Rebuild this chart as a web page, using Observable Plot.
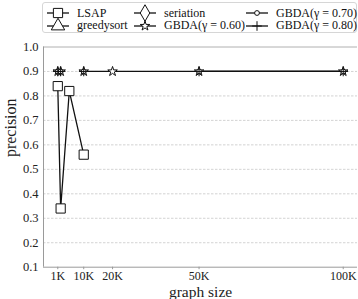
<!DOCTYPE html>
<html><head><meta charset="utf-8">
<script src="https://cdn.jsdelivr.net/npm/d3@7"></script>
<script src="https://cdn.jsdelivr.net/npm/@observablehq/plot@0.6"></script>
<style>
body{margin:0;background:#fff;font-family:"Liberation Serif","DejaVu Serif",serif;}
#legendWrap{position:relative;width:358px;height:36px;}
#legend{position:absolute;left:42px;top:2px;width:315px;height:31px;border:1px solid #d6d6d6;border-radius:3px;box-sizing:border-box;background:#fff;}
.item{position:absolute;display:flex;align-items:center;font-family:"Liberation Serif","DejaVu Serif",serif;font-size:12px;color:#111;white-space:nowrap;height:14px;}
.item svg{margin-right:8px;overflow:visible}
</style></head>
<body>
<div id="legendWrap"><div id="legend"></div></div>
<div id="chart"></div>
<script>
// ---- data ----
const sizes = [1000, 2000, 5000, 10000, 20000, 50000, 100000];
const seriesNames = ["LSAP", "greedysort", "seriation", "GBDA(γ = 0.60)", "GBDA(γ = 0.70)", "GBDA(γ = 0.80)"];
const lsap       = [0.84, 0.34, 0.82, 0.56, null, null, null];
const greedysort = [null, null, null, null, null, null, null];
const seriation  = [null, null, null, null, null, null, null];
const gbda060    = [0.90, 0.90, null, 0.90, 0.90, 0.90, 0.90];
const gbda070    = [0.90, 0.90, null, 0.90, null, 0.90, 0.90];
const gbda080    = [0.90, 0.90, null, 0.90, null, 0.90, 0.90];
const xTickValues = [1000, 10000, 20000, 50000, 100000];
const xTickLabels = ["1K", "10K", "20K", "50K", "100K"];
const yTickValues = [0.1, 0.2, 0.3, 0.4, 0.5, 0.6, 0.7, 0.8, 0.9, 1.0];

// ---- styles ----
const seriesValues = [lsap, greedysort, seriation, gbda060, gbda070, gbda080];
const styles = [
  {symbol: "square", r: 5.2},
  {symbol: "triangle", r: 5},
  {symbol: "diamond", r: 5},
  {symbol: "star", r: 3.0},
  {symbol: "circle", r: 2.4},
  {symbol: "plus", r: 3.2}
];
const symMap = {square: d3.symbolSquare, triangle: d3.symbolTriangle, diamond: d3.symbolDiamond, star: d3.symbolStar, circle: d3.symbolCircle, plus: d3.symbolPlus};

const rows = [];
seriesNames.forEach((name, s) => {
  sizes.forEach((x, i) => rows.push({series: name, s, x, y: seriesValues[s][i]}));
});

const [x0, x1] = d3.extent(sizes);
const pad = (x1 - x0) * 0.05;
const xDomain = [x0 - pad, x1 + pad];
const yDomain = [0.1, 1.0];
const labelOf = new Map(xTickValues.map((v, i) => [v, xTickLabels[i]]));

const H = 263;
const marks = [
  Plot.ruleY(yTickValues.slice(1, -1), {stroke: "#c8c8c8", strokeWidth: 0.8, strokeDasharray: "2.5,1.5"}),
  Plot.ruleY([yDomain[1]], {stroke: "#b0b0b0", strokeWidth: 1}),
  Plot.ruleY([yDomain[0]], {stroke: "#9a9a9a", strokeWidth: 1}),
  Plot.ruleX([xDomain[0]], {stroke: "#9a9a9a", strokeWidth: 1}),
  Plot.axisY({ticks: yTickValues, tickFormat: d => d.toFixed(1), tickSize: 0, tickPadding: 5, fontSize: 12.5, fill: "#222", label: null}),
  Plot.axisX({ticks: xTickValues, tickFormat: d => labelOf.get(d), tickSize: 2.5, tickPadding: 2, stroke: "#9a9a9a", fontSize: 12, fill: "#222", label: null}),
  Plot.text(["graph size"], {frameAnchor: "bottom", dy: 29.5, fontSize: 15.5, fill: "#222"}),
  Plot.text(["precision"], {frameAnchor: "left", dx: -33, rotate: -90, fontSize: 16, fill: "#222"})
];
seriesNames.forEach((name, s) => {
  const data = rows.filter(d => d.s === s);
  marks.push(Plot.line(data, {x: "x", y: "y", stroke: "#111", strokeWidth: 1.3}));
});
seriesNames.forEach((name, s) => {
  const data = rows.filter(d => d.s === s && d.y != null);
  marks.push(Plot.dot(data, {x: "x", y: "y", symbol: styles[s].symbol, r: styles[s].r, fill: "white", stroke: "#111", strokeWidth: 1}));
});

const chart = Plot.plot({
  width: 358, height: H,
  marginLeft: 43, marginRight: 1, marginTop: 10.5, marginBottom: 32.3,
  style: {fontFamily: "'Liberation Serif','DejaVu Serif',serif", background: "white"},
  x: {domain: xDomain, axis: null},
  y: {domain: yDomain, axis: null},
  marks
});
document.getElementById("chart").appendChild(chart);

// ---- legend ----
const legend = document.getElementById("legend");
const colX = [4, 91, 203];
const rowY = [3, 15.5];
const order = [[0, 0, 0], [1, 0, 1], [2, 1, 0], [3, 1, 1], [4, 2, 0], [5, 2, 1]];
order.forEach(([s, c, r]) => {
  const div = document.createElement("div");
  div.className = "item";
  div.style.left = colX[c] + "px";
  div.style.top = rowY[r] + "px";
  const svg = d3.create("svg").attr("width", 22).attr("height", 12);
  svg.append("line").attr("x1", 0).attr("x2", 22).attr("y1", 6).attr("y2", 6).attr("stroke", "#111").attr("stroke-width", 1.3);
  const st = styles[s];
  svg.append("path").attr("transform", "translate(11,6)")
    .attr("d", d3.symbol(symMap[st.symbol], Math.PI * st.r * st.r)())
    .attr("fill", "white").attr("stroke", "#111").attr("stroke-width", 1);
  div.appendChild(svg.node());
  const span = document.createElement("span");
  span.textContent = seriesNames[s];
  div.appendChild(span);
  legend.appendChild(div);
});
</script>
</body></html>
